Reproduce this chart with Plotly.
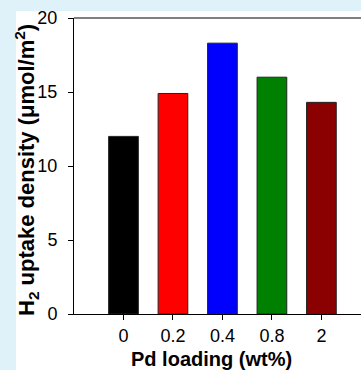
import plotly.graph_objects as go

# Pd loading series and H2 uptake density values
loadings = ["0", "0.2", "0.4", "0.8", "2"]
uptake = [12.0, 14.9, 18.3, 16.0, 14.3]
bar_colors = ["#000000", "#ff0000", "#0000ff", "#008000", "#8b0000"]
y_ticks = [0, 5, 10, 15, 20]

W, H = 361, 370
ml, mr, mt, mb = 74, 0, 18, 56
pw, ph = W - ml - mr, H - mt - mb


def px_x(px):
    """Pixel column -> paper x coordinate."""
    return (px - ml) / pw


def px_y(py):
    """Pixel row (from top) -> paper y coordinate."""
    return (H - mb - py) / ph


positions = list(range(len(loadings)))

fig = go.Figure(
    go.Bar(
        x=positions,
        y=uptake,
        width=0.6,
        marker=dict(color=bar_colors, line=dict(color="#222222", width=1)),
    )
)

font_family = "Liberation Sans, Arial, sans-serif"
band = "#dff1f9"

fig.update_layout(
    width=W,
    height=H,
    margin=dict(l=ml, r=mr, t=mt, b=mb),
    paper_bgcolor="white",
    plot_bgcolor="white",
    showlegend=False,
    font=dict(family=font_family, color="black"),
    shapes=[
        # keep the right edge of the panel white
        dict(type="rect", xref="paper", yref="paper", layer="above",
             x0=px_x(345), x1=px_x(W + 20), y0=px_y(313), y1=px_y(19),
             fillcolor="white", line=dict(width=0)),
        dict(type="rect", xref="paper", yref="paper", layer="above",
             x0=px_x(345), x1=px_x(W + 20), y0=px_y(H + 5), y1=px_y(316),
             fillcolor="white", line=dict(width=0)),
        # light blue page band on the left and top
        dict(type="rect", xref="paper", yref="paper", layer="below",
             x0=px_x(0), x1=px_x(16), y0=px_y(H + 5), y1=px_y(-5),
             fillcolor=band, line=dict(width=0)),
        dict(type="rect", xref="paper", yref="paper", layer="above",
             x0=px_x(0), x1=px_x(W + 20), y0=px_y(11), y1=px_y(-5),
             fillcolor=band, line=dict(width=0)),
        # grey top frame line
        dict(type="line", xref="paper", yref="paper", layer="above",
             x0=0, x1=px_x(W + 20), y0=1, y1=1, line=dict(color="#808080", width=2)),
    ],
    annotations=[
        dict(text="<b>Pd loading (wt%)</b>", xref="paper", yref="paper",
             x=px_x(211), y=px_y(359), xanchor="center", yanchor="middle",
             showarrow=False, font=dict(size=20, color="black")),
        dict(text="<b>H<sub>2</sub> uptake density (μmol/m<sup>2</sup>)</b>",
             xref="paper", yref="paper", textangle=-90,
             x=px_x(26), y=px_y(170), xanchor="center", yanchor="middle",
             showarrow=False, font=dict(size=22, color="black")),
    ],
)

fig.update_xaxes(
    range=[-1, 4.8],
    tickmode="array",
    tickvals=positions,
    ticktext=loadings,
    ticks="outside",
    ticklen=5,
    tickcolor="black",
    showline=True,
    linecolor="black",
    linewidth=1,
    showgrid=False,
    zeroline=False,
    tickfont=dict(size=18, color="black"),
)

fig.update_yaxes(
    range=[0, 20],
    tickmode="array",
    tickvals=y_ticks,
    ticks="outside",
    ticklen=5,
    tickcolor="black",
    showline=True,
    linecolor="black",
    linewidth=1,
    showgrid=False,
    zeroline=False,
    tickfont=dict(size=18, color="black"),
    ticklabelstandoff=7,
)

fig.write_html("out.html")
